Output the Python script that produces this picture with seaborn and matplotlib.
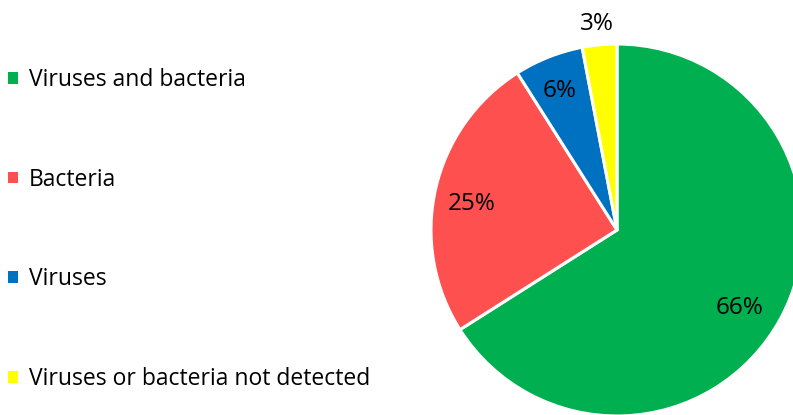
import matplotlib
matplotlib.use("Agg")
import matplotlib.pyplot as plt
import seaborn as sns

categories = ["Viruses and bacteria", "Bacteria", "Viruses", "Viruses or bacteria not detected"]
shares = [66, 25, 6, 3]
colors = ["#00B050", "#FF5050", "#0070C0", "#FFFF00"]

sns.set_theme(style="white")
plt.rcParams["font.family"] = ["Open Sans", "DejaVu Sans"]
plt.rcParams["text.color"] = "black"

W, H = 793, 415
fig = plt.figure(figsize=(W / 100, H / 100), dpi=100)

# pie axes: centre at (617, 230) px, radius 186 px
cx, cy, r = 617, 230, 186
ax = fig.add_axes([(cx - r) / W, (H - cy - r) / H, 2 * r / W, 2 * r / H])
wedges, _ = ax.pie(
    shares,
    colors=colors,
    startangle=90,
    counterclock=False,
    wedgeprops=dict(edgecolor="white", linewidth=2.2),
)
ax.set_xlim(-1, 1)
ax.set_ylim(-1, 1)
ax.set_aspect("equal")
ax.axis("off")
for w in wedges:
    w.set_clip_on(False)

# percentage labels
label_pos = [(0.66, -0.42), (-0.78, 0.14), (-0.31, 0.75), (-0.11, 1.11)]
for (x, y), v in zip(label_pos, shares):
    ax.text(x, y, f"{v}%", ha="center", va="center", fontsize=17.5, color="black", clip_on=False)

leg = fig.legend(
    wedges,
    categories,
    loc="upper left",
    bbox_to_anchor=(8 / W, 1 - 68 / H),
    frameon=False,
    fontsize=16.5,
    handlelength=0.42,
    handleheight=0.42,
    handletextpad=0.5,
    labelspacing=3.3,
    borderaxespad=0,
    borderpad=0,
)
for h in leg.legend_handles:
    h.set_edgecolor("none")
for t in leg.get_texts():
    t.set_color("black")

fig.savefig("out.png", dpi=100)
